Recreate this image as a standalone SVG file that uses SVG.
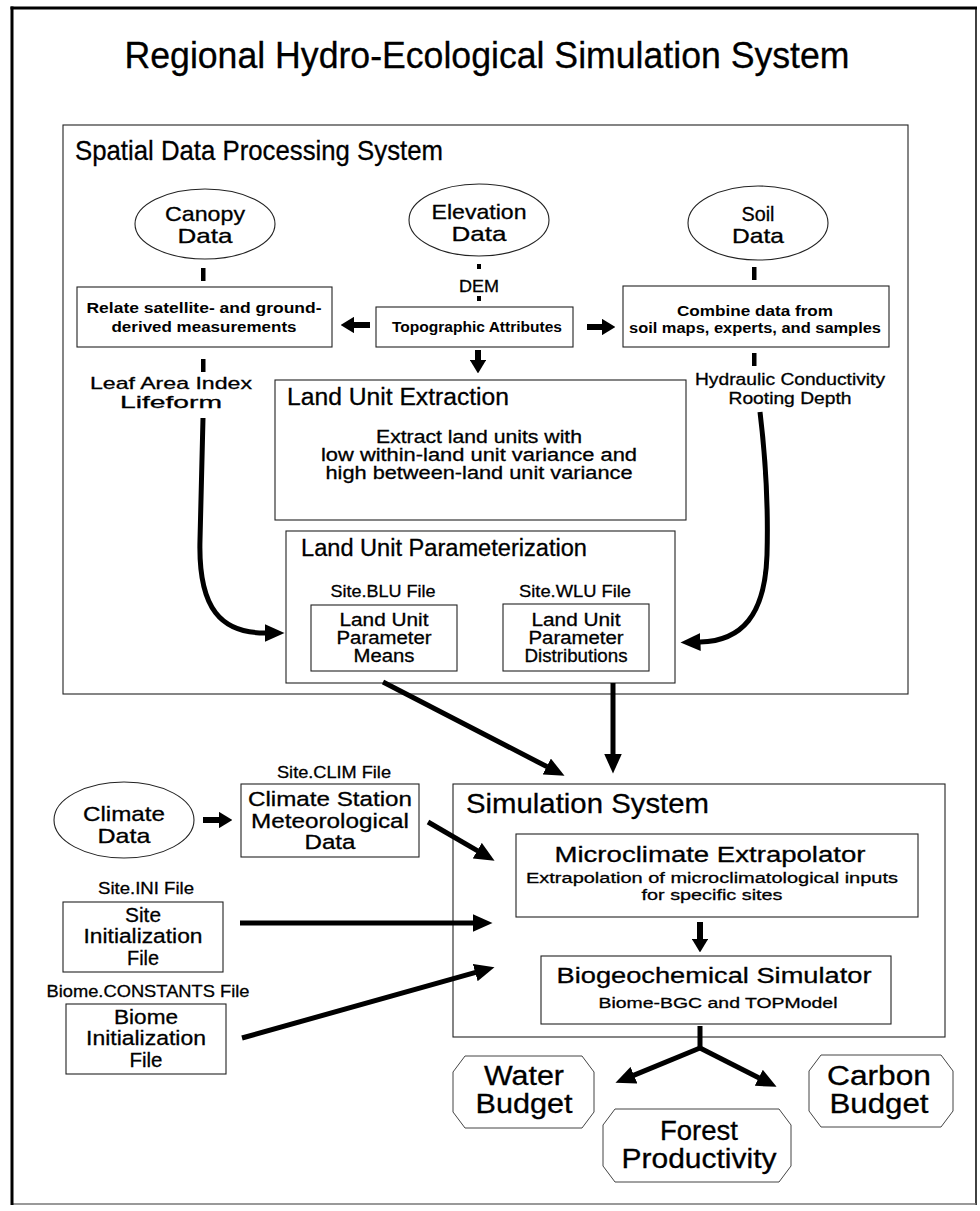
<svg xmlns="http://www.w3.org/2000/svg" width="980" height="1211" viewBox="0 0 980 1211">
<defs>
<style>
text{font-family:"Liberation Sans",Arial,sans-serif;fill:#000;stroke:#000;stroke-width:0.3}
.m{text-anchor:middle}
.k{font-weight:bold;stroke-width:0}
.b{fill:none;stroke:#222;stroke-width:1.1}
.o{fill:none;stroke:#444;stroke-width:1}
.c{fill:none;stroke:#000;stroke-width:5;marker-end:url(#ah)}
.s{fill:none;stroke:#000;stroke-width:6;marker-end:url(#ahs)}
.d{fill:#000}
</style>
<marker id="ah" viewBox="0 0 20 18" refX="0.5" refY="9" markerWidth="4" markerHeight="3.6" orient="auto"><path d="M0,0 L20,9 L0,18 z"/></marker>
<marker id="ahs" viewBox="0 0 14 17" refX="0.5" refY="8.5" markerWidth="2.33" markerHeight="2.83" orient="auto"><path d="M0,0 L14,8.5 L0,17 z"/></marker>
</defs>
<rect x="0" y="0" width="980" height="1211" fill="#fff"/>
<g id="frame">
<line x1="976" y1="8" x2="976" y2="1205" stroke="#111" stroke-width="1.6"/>
<line x1="12" y1="1204" x2="976" y2="1204" stroke="#777" stroke-width="1.6"/>
<line x1="12" y1="6.5" x2="12" y2="1205" stroke="#000" stroke-width="3"/>
<line x1="10.5" y1="8" x2="977" y2="8" stroke="#000" stroke-width="3"/>
</g>
<text class="m" x="487" y="68" font-size="36" textLength="725" lengthAdjust="spacingAndGlyphs">Regional Hydro-Ecological Simulation System</text>

<g id="sdps">
<rect class="b" x="63" y="125" width="845" height="569"/>
<text x="75" y="160" font-size="28" textLength="368" lengthAdjust="spacingAndGlyphs">Spatial Data Processing System</text>
</g>

<g id="canopy">
<ellipse class="b" cx="205" cy="224" rx="70" ry="35"/>
<text class="m" x="205" y="221" font-size="21" textLength="80" lengthAdjust="spacingAndGlyphs">Canopy</text>
<text class="m" x="205" y="243" font-size="21" textLength="55" lengthAdjust="spacingAndGlyphs">Data</text>
</g>
<g id="elevation">
<ellipse class="b" cx="479" cy="220" rx="70" ry="36"/>
<text class="m" x="479" y="219" font-size="21" textLength="95" lengthAdjust="spacingAndGlyphs">Elevation</text>
<text class="m" x="479" y="241" font-size="21" textLength="55" lengthAdjust="spacingAndGlyphs">Data</text>
</g>
<g id="soil">
<ellipse class="b" cx="758" cy="223" rx="70" ry="37"/>
<text class="m" x="758" y="221" font-size="21" textLength="33" lengthAdjust="spacingAndGlyphs">Soil</text>
<text class="m" x="758" y="243" font-size="21" textLength="52" lengthAdjust="spacingAndGlyphs">Data</text>
</g>

<g id="dem">
<rect class="d" x="477" y="264" width="4" height="5"/>
<text class="m" x="479" y="292" font-size="17" textLength="40" lengthAdjust="spacingAndGlyphs">DEM</text>
<rect class="d" x="477" y="296" width="4" height="5"/>
</g>

<g id="relate">
<rect class="b" x="77" y="287" width="255" height="60"/>
<text class="m k" x="204" y="313" font-size="14.5" textLength="235" lengthAdjust="spacingAndGlyphs">Relate satellite- and ground-</text>
<text class="m k" x="204" y="332" font-size="14.5" textLength="185" lengthAdjust="spacingAndGlyphs">derived measurements</text>
</g>
<g id="topographic">
<rect class="b" x="376" y="307" width="197" height="40"/>
<text class="m k" x="477" y="332" font-size="14.5" textLength="170" lengthAdjust="spacingAndGlyphs">Topographic Attributes</text>
</g>
<g id="combine">
<rect class="b" x="623" y="286" width="266" height="61"/>
<text class="m k" x="755" y="316" font-size="14.5" textLength="156" lengthAdjust="spacingAndGlyphs">Combine data from</text>
<text class="m k" x="755" y="333" font-size="14.5" textLength="252" lengthAdjust="spacingAndGlyphs">soil maps, experts, and samples</text>
</g>

<g id="lai-label">
<text class="m" x="171" y="389" font-size="17" textLength="162" lengthAdjust="spacingAndGlyphs">Leaf Area Index</text>
<text class="m" x="171" y="408" font-size="17" textLength="102" lengthAdjust="spacingAndGlyphs">Lifeform</text>
</g>
<g id="hydraulic-label">
<text class="m" x="790" y="385" font-size="17" textLength="190" lengthAdjust="spacingAndGlyphs">Hydraulic Conductivity</text>
<text class="m" x="790" y="404" font-size="17" textLength="123" lengthAdjust="spacingAndGlyphs">Rooting Depth</text>
</g>

<g id="land-unit-extraction">
<rect class="b" x="275" y="380" width="411" height="140"/>
<text x="287" y="405" font-size="23" textLength="222" lengthAdjust="spacingAndGlyphs">Land Unit Extraction</text>
<text class="m" x="479" y="443" font-size="18" textLength="206" lengthAdjust="spacingAndGlyphs">Extract land units with</text>
<text class="m" x="479" y="461" font-size="18" textLength="316" lengthAdjust="spacingAndGlyphs">low within-land unit variance and</text>
<text class="m" x="479" y="479" font-size="18" textLength="307" lengthAdjust="spacingAndGlyphs">high between-land unit variance</text>
</g>

<g id="land-unit-parameterization">
<rect class="b" x="286" y="531" width="389" height="152"/>
<text x="301" y="556" font-size="23" textLength="286" lengthAdjust="spacingAndGlyphs">Land Unit Parameterization</text>
<text class="m" x="383" y="597" font-size="17" textLength="105" lengthAdjust="spacingAndGlyphs">Site.BLU File</text>
<text class="m" x="575" y="597" font-size="17" textLength="112" lengthAdjust="spacingAndGlyphs">Site.WLU File</text>
</g>
<g id="blu">
<rect class="b" x="311" y="605" width="146" height="66"/>
<text class="m" x="384" y="626" font-size="18" textLength="89" lengthAdjust="spacingAndGlyphs">Land Unit</text>
<text class="m" x="384" y="644" font-size="18" textLength="95" lengthAdjust="spacingAndGlyphs">Parameter</text>
<text class="m" x="384" y="662" font-size="18" textLength="61" lengthAdjust="spacingAndGlyphs">Means</text>
</g>
<g id="wlu">
<rect class="b" x="503" y="604" width="146" height="67"/>
<text class="m" x="576" y="626" font-size="18" textLength="89" lengthAdjust="spacingAndGlyphs">Land Unit</text>
<text class="m" x="576" y="644" font-size="18" textLength="95" lengthAdjust="spacingAndGlyphs">Parameter</text>
<text class="m" x="576" y="662" font-size="18" textLength="103" lengthAdjust="spacingAndGlyphs">Distributions</text>
</g>

<g id="climate-data">
<ellipse class="b" cx="124" cy="820" rx="70" ry="38"/>
<text class="m" x="124" y="821" font-size="21" textLength="82" lengthAdjust="spacingAndGlyphs">Climate</text>
<text class="m" x="124" y="843" font-size="21" textLength="53" lengthAdjust="spacingAndGlyphs">Data</text>
</g>
<g id="climate-station">
<text class="m" x="334" y="778" font-size="17" textLength="114" lengthAdjust="spacingAndGlyphs">Site.CLIM File</text>
<rect class="b" x="241" y="784" width="178" height="73"/>
<text class="m" x="330" y="806" font-size="20.5" textLength="164" lengthAdjust="spacingAndGlyphs">Climate Station</text>
<text class="m" x="330" y="828" font-size="20.5" textLength="158" lengthAdjust="spacingAndGlyphs">Meteorological</text>
<text class="m" x="330" y="849" font-size="20.5" textLength="51" lengthAdjust="spacingAndGlyphs">Data</text>
</g>
<g id="site-init">
<text class="m" x="146" y="894" font-size="17" textLength="96" lengthAdjust="spacingAndGlyphs">Site.INI File</text>
<rect class="b" x="63" y="902" width="160" height="70"/>
<text class="m" x="143" y="922" font-size="20.5" textLength="36" lengthAdjust="spacingAndGlyphs">Site</text>
<text class="m" x="143" y="943" font-size="20.5" textLength="119" lengthAdjust="spacingAndGlyphs">Initialization</text>
<text class="m" x="143" y="965" font-size="20.5" textLength="32" lengthAdjust="spacingAndGlyphs">File</text>
</g>
<g id="biome-init">
<text class="m" x="148" y="997" font-size="17" textLength="203" lengthAdjust="spacingAndGlyphs">Biome.CONSTANTS File</text>
<rect class="b" x="66" y="1004" width="160" height="70"/>
<text class="m" x="146" y="1024" font-size="20.5" textLength="64" lengthAdjust="spacingAndGlyphs">Biome</text>
<text class="m" x="146" y="1045" font-size="20.5" textLength="120" lengthAdjust="spacingAndGlyphs">Initialization</text>
<text class="m" x="146" y="1067" font-size="20.5" textLength="33" lengthAdjust="spacingAndGlyphs">File</text>
</g>

<g id="simulation-system">
<rect class="b" x="453" y="784" width="492" height="253"/>
<text x="466" y="813" font-size="28" textLength="243" lengthAdjust="spacingAndGlyphs">Simulation System</text>
</g>
<g id="microclimate">
<rect class="b" x="516" y="834" width="402" height="83"/>
<text class="m" x="710" y="862" font-size="22" textLength="311" lengthAdjust="spacingAndGlyphs">Microclimate Extrapolator</text>
<text class="m" x="712" y="883" font-size="15.5" textLength="372" lengthAdjust="spacingAndGlyphs">Extrapolation of microclimatological inputs</text>
<text class="m" x="712" y="900" font-size="15.5" textLength="141" lengthAdjust="spacingAndGlyphs">for specific sites</text>
</g>
<g id="biogeochemical">
<rect class="b" x="541" y="956" width="350" height="68"/>
<text class="m" x="714" y="983" font-size="22" textLength="315" lengthAdjust="spacingAndGlyphs">Biogeochemical Simulator</text>
<text class="m" x="718" y="1008" font-size="15.5" textLength="239" lengthAdjust="spacingAndGlyphs">Biome-BGC and TOPModel</text>
</g>

<g id="water-budget">
<polygon class="o" points="465,1056 582,1056 594,1072 594,1112 582,1128 465,1128 453,1112 453,1072"/>
<text class="m" x="524" y="1085" font-size="27" textLength="80" lengthAdjust="spacingAndGlyphs">Water</text>
<text class="m" x="524" y="1113" font-size="27" textLength="97" lengthAdjust="spacingAndGlyphs">Budget</text>
</g>
<g id="forest-productivity">
<polygon class="o" points="615,1109 779,1109 791,1125 791,1166 779,1182 615,1182 603,1166 603,1125"/>
<text class="m" x="699" y="1140" font-size="27" textLength="78" lengthAdjust="spacingAndGlyphs">Forest</text>
<text class="m" x="699" y="1168" font-size="27" textLength="155" lengthAdjust="spacingAndGlyphs">Productivity</text>
</g>
<g id="carbon-budget">
<polygon class="o" points="821,1055 941,1055 953,1071 953,1111 941,1127 821,1127 809,1111 809,1071"/>
<text class="m" x="879" y="1085" font-size="27" textLength="104" lengthAdjust="spacingAndGlyphs">Carbon</text>
<text class="m" x="879" y="1113" font-size="27" textLength="99" lengthAdjust="spacingAndGlyphs">Budget</text>
</g>

<g id="connectors">
<rect class="d" x="201" y="268" width="4.5" height="13"/>
<rect class="d" x="752" y="267" width="4.5" height="13"/>
<rect class="d" x="201" y="359" width="4.5" height="13"/>
<rect class="d" x="752" y="353" width="4.5" height="13"/>
<path class="s" d="M370,325 L354,325"/>
<path class="s" d="M587,327 L602,327"/>
<path class="s" d="M478,350 L478,360"/>
<path class="c" d="M203,418 L200,540 C198,610 222,633 265,633"/>
<path class="c" d="M760,412 C767,470 768,520 767,555 C765,615 742,641 700,642"/>
<path class="c" d="M383,682 L547.2,766.8"/>
<path class="c" d="M613,683 L613,754"/>
<path class="s" d="M203,820 L219,820"/>
<path class="c" d="M428,822 L477.7,850.9"/>
<path class="c" d="M240,923 L473,923"/>
<path class="c" d="M242,1038 L475.7,972.4"/>
<path class="s" d="M700,922 L700,939"/>
<path fill="none" stroke="#000" stroke-width="5" d="M700,1026 L700,1048"/>
<path class="c" d="M700,1048 L633.5,1075.4"/>
<path class="c" d="M700,1048 L759.2,1078"/>
</g>
</svg>
